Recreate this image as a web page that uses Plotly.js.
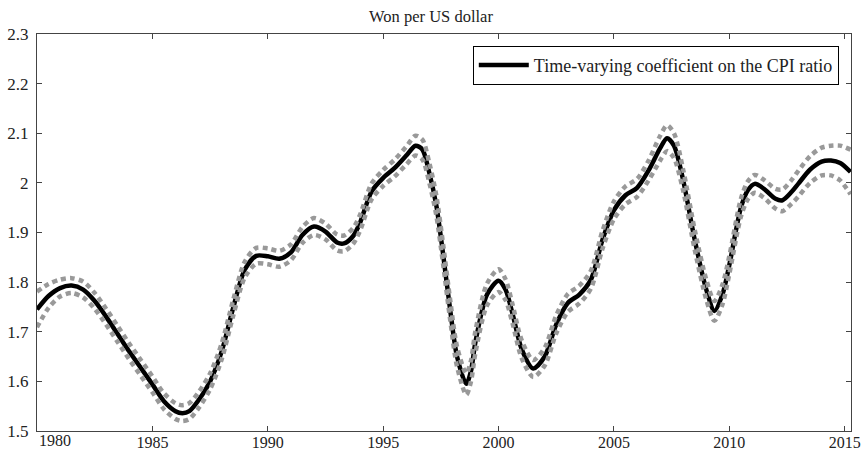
<!DOCTYPE html>
<html>
<head>
<meta charset="utf-8">
<script src="https://cdn.plot.ly/plotly-3.0.1.min.js"></script>
<style>html,body{margin:0;padding:0;background:#fff;}#chart{width:862px;height:451px;}</style>
</head>
<body>
<div id="chart"></div>
<script>
const years = [1980.0,1980.5,1981.0,1981.5,1982.0,1982.5,1983.0,1983.5,1984.0,1984.5,1985.0,1985.5,1986.0,1986.3,1986.6,1987.0,1987.5,1988.0,1988.5,1989.0,1989.5,1990.0,1990.5,1991.0,1991.5,1992.0,1992.5,1993.0,1993.3,1993.7,1994.0,1994.5,1995.0,1995.5,1996.0,1996.4,1996.7,1997.0,1997.3,1997.6,1997.9,1998.2,1998.6,1998.8,1999.0,1999.5,2000.0,2000.3,2000.6,2001.0,2001.5,2002.0,2002.5,2003.0,2003.5,2004.0,2004.5,2005.0,2005.5,2006.0,2006.5,2007.0,2007.3,2007.6,2008.0,2008.5,2009.0,2009.35,2009.7,2010.0,2010.5,2010.8,2011.1,2011.5,2012.0,2012.3,2012.7,2013.0,2013.5,2014.0,2014.4,2014.8,2015.25];
const coef = [1.745,1.772,1.788,1.793,1.785,1.762,1.730,1.695,1.660,1.627,1.594,1.560,1.540,1.536,1.540,1.562,1.600,1.660,1.748,1.825,1.853,1.852,1.847,1.860,1.895,1.912,1.902,1.880,1.878,1.893,1.920,1.983,2.010,2.030,2.055,2.075,2.067,2.020,1.955,1.855,1.745,1.650,1.595,1.620,1.680,1.775,1.803,1.785,1.737,1.665,1.626,1.650,1.715,1.758,1.775,1.805,1.885,1.945,1.975,1.990,2.025,2.070,2.090,2.075,2.005,1.885,1.785,1.742,1.775,1.835,1.950,1.985,1.998,1.988,1.968,1.965,1.982,1.999,2.027,2.043,2.045,2.040,2.022];
const upper = [1.781,1.796,1.805,1.808,1.801,1.778,1.746,1.711,1.676,1.643,1.610,1.576,1.556,1.552,1.556,1.578,1.616,1.676,1.764,1.841,1.869,1.868,1.863,1.876,1.911,1.929,1.918,1.896,1.894,1.909,1.936,1.999,2.026,2.047,2.073,2.095,2.087,2.040,1.975,1.875,1.765,1.670,1.616,1.641,1.702,1.797,1.826,1.806,1.756,1.683,1.643,1.668,1.733,1.776,1.793,1.823,1.903,1.963,1.993,2.008,2.045,2.095,2.116,2.100,2.026,1.905,1.805,1.762,1.795,1.853,1.968,2.003,2.016,2.006,1.988,1.987,2.006,2.025,2.054,2.071,2.075,2.075,2.067];
const lower = [1.709,1.748,1.771,1.778,1.769,1.746,1.714,1.679,1.644,1.611,1.578,1.544,1.524,1.520,1.524,1.546,1.584,1.644,1.732,1.809,1.837,1.836,1.831,1.844,1.879,1.895,1.886,1.864,1.862,1.877,1.904,1.967,1.994,2.013,2.037,2.055,2.047,2.000,1.935,1.835,1.725,1.630,1.573,1.599,1.658,1.753,1.780,1.764,1.718,1.647,1.609,1.632,1.697,1.740,1.757,1.787,1.867,1.927,1.957,1.972,2.005,2.045,2.064,2.050,1.984,1.865,1.765,1.722,1.755,1.817,1.932,1.967,1.980,1.970,1.948,1.943,1.958,1.973,2.000,2.015,2.015,2.005,1.977];
const xTickVals = [1980,1985,1990,1995,2000,2005,2010,2015];
const xTickText = ['','1985','1990','1995','2000','2005','2010','2015'];
const firstXLabel = '1980';
const yTickVals = [1.5,1.6,1.7,1.8,1.9,2,2.1,2.2,2.3];
const yTickText = ['1.5','1.6','1.7','1.8','1.9','2','2.1','2.2','2.3'];
const titleText = 'Won per US dollar';
const seriesName = 'Time-varying coefficient on the CPI ratio';

const FONT = 'Times New Roman, Liberation Serif, DejaVu Serif, serif';
const traces = [
  {x: years, y: coef, type: 'scatter', mode: 'lines', name: seriesName,
   line: {color: '#000', width: 4.5, shape: 'spline', smoothing: 0.8}},
  {x: years, y: upper, type: 'scatter', mode: 'lines', showlegend: false,
   line: {color: '#999999', width: 4.5, dash: '5px,4px', shape: 'spline', smoothing: 0.8}},
  {x: years, y: lower, type: 'scatter', mode: 'lines', showlegend: false,
   line: {color: '#999999', width: 4.5, dash: '5px,4px', shape: 'spline', smoothing: 0.8}}
];
const axisCommon = {
  showgrid: false, zeroline: false, showline: true, linecolor: '#444', linewidth: 1,
  mirror: 'ticks', ticks: 'inside', ticklen: 5, tickcolor: '#444', tickwidth: 1,
  tickfont: {family: FONT, size: 16, color: '#222'}
};
const layout = {
  width: 862, height: 451,
  margin: {l: 37, r: 11, t: 34, b: 20, pad: 0},
  paper_bgcolor: '#fff', plot_bgcolor: '#fff',
  title: {text: titleText, font: {family: FONT, size: 16.5, color: '#222'},
          x: 0.5, xref: 'container', xanchor: 'center', y: 0.965, yref: 'container', yanchor: 'middle'},
  xaxis: Object.assign({}, axisCommon, {range: [1980, 2015.27], tickmode: 'array',
          tickvals: xTickVals, ticktext: xTickText, ticklabelstandoff: -3}),
  yaxis: Object.assign({}, axisCommon, {range: [1.5, 2.3], tickmode: 'array',
          tickvals: yTickVals, ticktext: yTickText, ticklabelstandoff: 4,
          tickfont: {family: FONT, size: 17, color: '#222'}}),
  showlegend: true,
  legend: {x: 0.985, xanchor: 'right', y: 0.97, yanchor: 'top', bgcolor: '#fff',
           bordercolor: '#000', borderwidth: 1, itemwidth: 50,
           font: {family: FONT, size: 18, color: '#222'}},
  annotations: [{text: firstXLabel, x: 1980, xref: 'x', xanchor: 'left', y: 0, yref: 'paper',
                 yanchor: 'top', yshift: 1, showarrow: false,
                 font: {family: FONT, size: 16, color: '#222'}}]
};
Plotly.newPlot('chart', traces, layout, {staticPlot: true, displayModeBar: false});
</script>
</body>
</html>
